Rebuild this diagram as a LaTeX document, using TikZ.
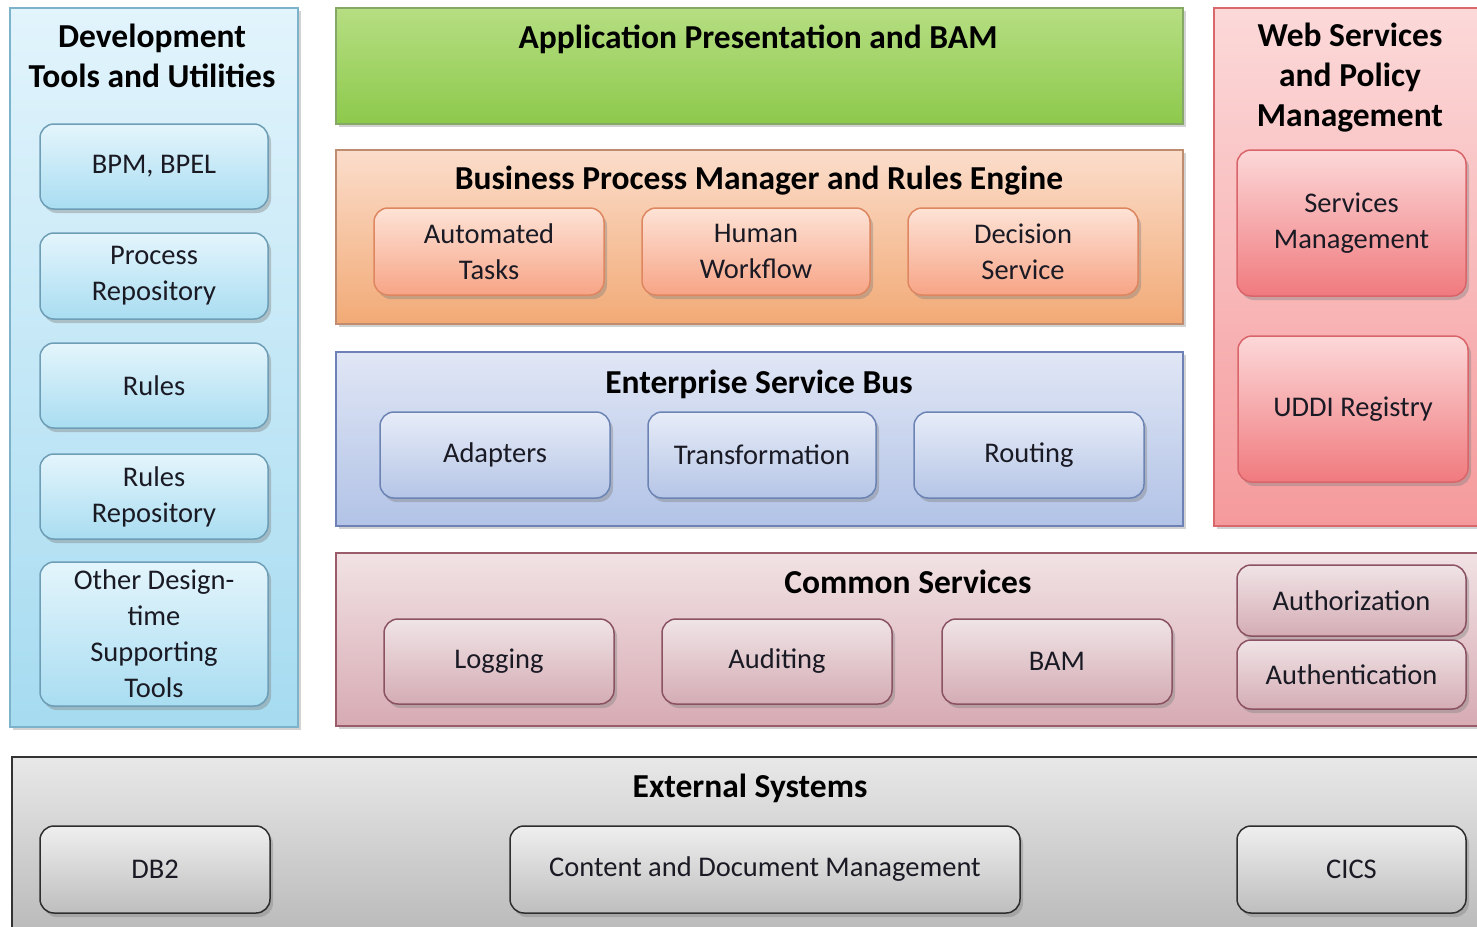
\documentclass[tikz,border=0pt]{standalone}
\usepackage{fontspec}
\setmainfont{Carlito}
\usetikzlibrary{shadows}
\definecolor{txt}{HTML}{1A1A24}
% panel colours
\definecolor{devT}{HTML}{E2F4FC}\definecolor{devB}{HTML}{A6DBF0}\definecolor{devD}{HTML}{7DB3CA}
\definecolor{appT}{HTML}{B6DE82}\definecolor{appB}{HTML}{8DC94C}\definecolor{appD}{HTML}{86A866}
\definecolor{bpmT}{HTML}{FBDDCB}\definecolor{bpmB}{HTML}{F2AA76}\definecolor{bpmD}{HTML}{C08C70}
\definecolor{esbT}{HTML}{E0E6F5}\definecolor{esbB}{HTML}{B2C3E6}\definecolor{esbD}{HTML}{6E81B6}
\definecolor{webT}{HTML}{FCD9D9}\definecolor{webB}{HTML}{F59A9C}\definecolor{webD}{HTML}{D8686C}
\definecolor{comT}{HTML}{F1E2E4}\definecolor{comB}{HTML}{D7ABB3}\definecolor{comD}{HTML}{9A5C6A}
\definecolor{extT}{HTML}{E8E8E8}\definecolor{extB}{HTML}{B8B8B8}\definecolor{extD}{HTML}{333333}
% inner box colours
\definecolor{idevT}{HTML}{E4F5FC}\definecolor{idevB}{HTML}{A9DDF1}\definecolor{idevD}{HTML}{6E9DB6}
\definecolor{ibpmT}{HTML}{FDE3D6}\definecolor{ibpmB}{HTML}{F7A486}\definecolor{ibpmD}{HTML}{DE8660}
\definecolor{iesbT}{HTML}{E7ECF8}\definecolor{iesbB}{HTML}{B5C5E6}\definecolor{iesbD}{HTML}{6C84B4}
\definecolor{iwebT}{HTML}{FCD8D8}\definecolor{iwebB}{HTML}{F07A7E}\definecolor{iwebD}{HTML}{D9646A}
\definecolor{icomT}{HTML}{F0E4E6}\definecolor{icomB}{HTML}{D4ACB4}\definecolor{icomD}{HTML}{8A5262}
\definecolor{iextT}{HTML}{EFEFEF}\definecolor{iextB}{HTML}{BEBEBE}\definecolor{iextD}{HTML}{2E2E2E}
\begin{document}
\begin{tikzpicture}[x=1pt,y=-1pt,
  panel/.style={draw=#1D, top color=#1T, bottom color=#1B, line width=1.2pt, inner sep=0pt,
     drop shadow={opacity=0.35, shadow xshift=3pt, shadow yshift=-3pt}},
  box/.style={draw=i#1D, top color=i#1T, bottom color=i#1B, line width=1.5pt, rounded corners=14pt,
     inner sep=0pt, align=center, text=txt, font=\fontsize{28.5}{36}\selectfont,
     drop shadow={opacity=0.4, shadow xshift=3pt, shadow yshift=-4pt}},
  ttl/.style={align=center, text=black, font=\fontsize{33.5}{40}\selectfont\bfseries, inner sep=0pt},
  sz/.style 2 args={minimum width=#1pt, minimum height=#2pt}
]
\useasboundingbox (0,0) rectangle (1477,926);
\clip (0,0) rectangle (1477,926);
\fill[white] (0,0) rectangle (1477,926);

% ---------- panels ----------
\node[panel=dev, sz={288}{719}] (dev) at (154,367.5) {};
\node[panel=app, sz={847}{116}] (app) at (759.5,66) {};
\node[panel=bpm, sz={847}{174}] (bpm) at (759.5,237) {};
\node[panel=esb, sz={847}{174}] (esb) at (759.5,439) {};
\node[panel=web, sz={276}{518}] (web) at (1352,267) {};
\node[panel=com, sz={1154}{173}] (com) at (913,639.5) {};
\node[panel=ext, sz={1478}{183}] (ext) at (751,848.5) {};

% ---------- titles ----------
\node[ttl] (devt) at (152,56) {Development\\Tools and Utilities};
\node[ttl] (appt) at (758,39) {Application Presentation and BAM};
\node[ttl] (bpmt) at (759,181) {Business Process Manager and Rules Engine};
\node[ttl] (esbt) at (759,384) {Enterprise Service Bus};
\node[ttl] (webt) at (1350,78) {Web Services\\and Policy\\Management};
\node[ttl] (comt) at (908,582) {Common Services};
\node[ttl] (extt) at (750,788) {External Systems};

% ---------- development tools ----------
\node[box=dev, sz={228}{85}] (bpel) at (154,166.5) {BPM, BPEL};
\node[box=dev, sz={228}{86}] (prep) at (154,276) {Process\\Repository};
\node[box=dev, sz={228}{85}] (rules) at (154,385.5) {Rules};
\node[box=dev, sz={228}{85}] (rrep) at (154,496.5) {Rules\\Repository};
\node[box=dev, sz={228}{144}] (other) at (154,634) {Other Design-\\time\\Supporting\\Tools};

% ---------- BPM ----------
\node[box=bpm, sz={230}{87}] (auto) at (489,251.5) {Automated\\Tasks};
\node[box=bpm, sz={228}{87}] (human) at (756,251.5) {Human\\Workflow};
\node[box=bpm, sz={230}{87}] (dec) at (1023,251.5) {Decision\\Service};

% ---------- ESB ----------
\node[box=esb, sz={230}{86}] (adap) at (495,455) {Adapters};
\node[box=esb, sz={228}{86}] (trans) at (762,455) {Transformation};
\node[box=esb, sz={230}{86}] (rout) at (1029,455) {Routing};

% ---------- web services ----------
\node[box=web, sz={229}{146}] (smgmt) at (1351.5,223) {Services\\Management};
\node[box=web, sz={230}{146}] (uddi) at (1353,409) {UDDI Registry};

% ---------- common services ----------
\node[box=com, sz={230}{85}] (log) at (499,661.5) {Logging};
\node[box=com, sz={230}{85}] (aud) at (777,661.5) {Auditing};
\node[box=com, sz={230}{85}] (bam) at (1057,661.5) {BAM};
\node[box=com, sz={229}{71}] (authz) at (1351.5,600.5) {Authorization};
\node[box=com, sz={229}{69}] (authn) at (1351.5,674.5) {Authentication};

% ---------- external ----------
\node[box=ext, sz={230}{87}] (db2) at (155,869.5) {DB2};
\node[box=ext, sz={510}{87}] (cdm) at (765,869.5) {Content and Document Management};
\node[box=ext, sz={229}{87}] (cics) at (1351.5,869.5) {CICS};
\end{tikzpicture}
\end{document}
